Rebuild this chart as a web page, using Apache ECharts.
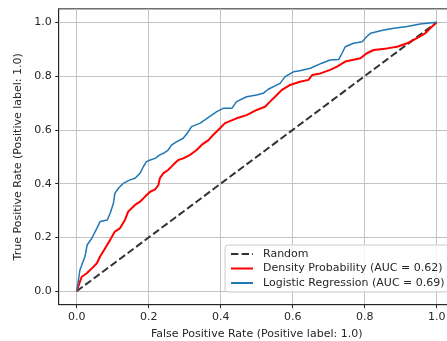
<!DOCTYPE html>
<html>
<head>
<meta charset="utf-8">
<script src="https://cdn.jsdelivr.net/npm/echarts@6/dist/echarts.min.js"></script>
<style>
  html, body { margin: 0; padding: 0; background: #fff; }
  #chart { width: 447px; height: 341px; }
</style>
</head>
<body>
<div id="chart"></div>
<script>
const tickValues = [0, 0.2, 0.4, 0.6, 0.8, 1.0];

const randomFpr = [0, 1];
const randomTpr = [0, 1];

const densityFpr = [0, 0.002, 0.009, 0.014, 0.028, 0.042, 0.056, 0.065, 0.079, 0.093, 0.106, 0.12, 0.134, 0.143, 0.148, 0.162, 0.176, 0.19, 0.204, 0.218, 0.227, 0.231, 0.241, 0.254, 0.268, 0.282, 0.296, 0.315, 0.333, 0.347, 0.366, 0.379, 0.398, 0.412, 0.444, 0.472, 0.5, 0.523, 0.537, 0.551, 0.569, 0.593, 0.62, 0.644, 0.654, 0.677, 0.704, 0.723, 0.746, 0.788, 0.806, 0.825, 0.862, 0.89, 0.918, 0.945, 0.968, 0.982, 1];
const densityTpr = [0, 0.005, 0.036, 0.054, 0.067, 0.085, 0.104, 0.129, 0.16, 0.191, 0.222, 0.234, 0.265, 0.296, 0.302, 0.321, 0.333, 0.352, 0.37, 0.379, 0.395, 0.42, 0.439, 0.451, 0.47, 0.488, 0.494, 0.507, 0.525, 0.544, 0.562, 0.581, 0.606, 0.625, 0.643, 0.655, 0.674, 0.686, 0.705, 0.723, 0.748, 0.767, 0.779, 0.786, 0.804, 0.81, 0.823, 0.835, 0.854, 0.866, 0.885, 0.897, 0.903, 0.909, 0.922, 0.941, 0.959, 0.978, 1];

const logisticFpr = [0, 0.002, 0.009, 0.023, 0.029, 0.042, 0.056, 0.065, 0.085, 0.093, 0.102, 0.106, 0.116, 0.129, 0.148, 0.162, 0.176, 0.185, 0.194, 0.204, 0.218, 0.231, 0.241, 0.254, 0.264, 0.278, 0.296, 0.31, 0.319, 0.343, 0.356, 0.375, 0.389, 0.407, 0.431, 0.444, 0.472, 0.5, 0.518, 0.532, 0.565, 0.579, 0.602, 0.62, 0.649, 0.681, 0.704, 0.728, 0.737, 0.746, 0.769, 0.793, 0.806, 0.816, 0.853, 0.881, 0.918, 0.954, 1];
const logisticTpr = [0, 0.017, 0.079, 0.129, 0.172, 0.197, 0.234, 0.259, 0.265, 0.29, 0.327, 0.364, 0.383, 0.401, 0.414, 0.42, 0.439, 0.463, 0.482, 0.488, 0.494, 0.507, 0.513, 0.525, 0.544, 0.556, 0.569, 0.593, 0.612, 0.625, 0.637, 0.655, 0.668, 0.68, 0.68, 0.705, 0.723, 0.73, 0.736, 0.751, 0.773, 0.798, 0.816, 0.82, 0.829, 0.848, 0.86, 0.862, 0.885, 0.909, 0.922, 0.928, 0.947, 0.959, 0.971, 0.978, 0.984, 0.994, 1];

const zip = (xs, ys) => xs.map((x, i) => [x, ys[i]]);

const font = 'DejaVu Sans';
const textColor = '#262626';

const axisCommon = {
  type: 'value',
  min: -0.05,
  max: 1.05,
  axisLine: { show: true, onZero: false, lineStyle: { color: '#262626', width: 1 } },
  axisTick: {
    show: true,
    length: 3.5,
    customValues: tickValues,
    lineStyle: { color: '#262626', width: 1 },
  },
  axisLabel: {
    customValues: tickValues,
    formatter: (v) => v.toFixed(1),
    color: textColor,
    fontFamily: font,
    fontSize: 11,
  },
  splitLine: { show: true, lineStyle: { color: '#c4c4c4', width: 1 } },
  nameLocation: 'middle',
  nameTextStyle: { color: textColor, fontFamily: font, fontSize: 11 },
};

const option = {
  animation: false,
  grid: {
    left: 58.7,
    top: 8.85,
    width: 396,
    height: 295.85,
    outerBoundsMode: 'none',
    containLabel: false,
    show: true,
    borderColor: '#262626',
    borderWidth: 1,
    backgroundColor: 'transparent',
  },
  legend: {
    orient: 'vertical',
    left: 225,
    top: 245,
    padding: [3.5, 4, 3.5, 5],
    itemGap: 3.5,
    itemWidth: 22,
    itemHeight: 8,
    itemStyle: { opacity: 0 },
    backgroundColor: 'rgba(255,255,255,0.8)',
    borderColor: '#cccccc',
    borderWidth: 1,
    borderRadius: 3,
    textStyle: {
      color: textColor,
      fontFamily: font,
      fontSize: 11,
      padding: [0, 0, 0, 5],
    },
    data: [
      'Random',
      'Density Probability (AUC = 0.62)',
      'Logistic Regression (AUC = 0.69)',
    ],
  },
  xAxis: {
    ...axisCommon,
    axisLabel: { ...axisCommon.axisLabel, margin: 6.5 },
    name: 'False Positive Rate (Positive label: 1.0)',
    nameGap: 24,
  },
  yAxis: {
    ...axisCommon,
    axisLabel: { ...axisCommon.axisLabel, margin: 7 },
    name: 'True Positive Rate (Positive label: 1.0)',
    nameGap: 26,
  },
  series: [
    {
      name: 'Random',
      type: 'line',
      symbol: 'none',
      lineStyle: { color: '#333333', width: 2, type: [7.4, 3.2] },
      itemStyle: { color: '#333333' },
      data: zip(randomFpr, randomTpr),
    },
    {
      name: 'Density Probability (AUC = 0.62)',
      type: 'line',
      symbol: 'none',
      lineStyle: { color: '#ff0000', width: 2 },
      itemStyle: { color: '#ff0000' },
      data: zip(densityFpr, densityTpr),
    },
    {
      name: 'Logistic Regression (AUC = 0.69)',
      type: 'line',
      symbol: 'none',
      lineStyle: { color: '#1f77b4', width: 1.5 },
      itemStyle: { color: '#1f77b4' },
      data: zip(logisticFpr, logisticTpr),
    },
  ],
};

const chart = echarts.init(document.getElementById('chart'));
chart.setOption(option);
</script>
</body>
</html>
